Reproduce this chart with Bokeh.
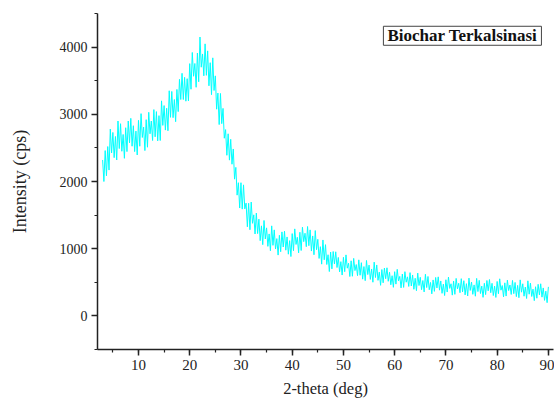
import numpy as np
from bokeh.plotting import figure
from bokeh.models import SingleIntervalTicker, Label
from bokeh.embed import file_html
from bokeh.resources import INLINE

# 2-theta grid (deg) and intensity (cps)
two_theta_start = 3.0
two_theta_step = 0.25
intensity = [
    2320, 2000, 2460, 2085, 2520, 2170, 2780, 2425, 2730, 2355,
    2670, 2320, 2900, 2490, 2860, 2450, 2700, 2345, 2800, 2445,
    2900, 2575, 2940, 2525, 2830, 2445, 2750, 2395, 2910, 2525,
    3010, 2655, 2810, 2460, 2920, 2510, 3030, 2710, 2900, 2610,
    3070, 2665, 3040, 2605, 2980, 2610, 3200, 2835, 3130, 2765,
    3090, 2755, 3350, 2955, 3340, 2950, 3220, 2890, 3370, 3040,
    3520, 3220, 3610, 3220, 3550, 3195, 3530, 3200, 3754, 3373,
    3920, 3566, 3756, 3402, 3912, 3484, 4150, 3701, 3898, 3573,
    4048, 3580, 3944, 3424, 3768, 3292, 3840, 3354, 3572, 3076,
    3316, 2847, 3310, 2861, 3088, 2644, 2772, 2390, 2710, 2318,
    2628, 2257, 2484, 2035, 2210, 1797, 1982, 1605, 1982, 1589,
    1950, 1593, 1678, 1326, 1676, 1282, 1694, 1378, 1504, 1219,
    1530, 1225, 1440, 1120, 1340, 1060, 1420, 1145, 1310, 1035,
    1220, 970, 1340, 1050, 1280, 995, 1150, 905, 1200, 955,
    1250, 1025, 1260, 978, 1175, 918, 1120, 883, 1225, 970,
    1295, 1063, 1170, 938, 1245, 973, 1320, 1105, 1230, 1030,
    1330, 1045, 1280, 965, 1190, 910, 1270, 985, 1140, 855,
    1030, 770, 1130, 835, 1060, 765, 910, 660, 950, 700,
    958, 772, 954, 720, 870, 655, 807, 608, 872, 658,
    908, 710, 784, 586, 820, 590, 856, 674, 764, 599,
    834, 605, 792, 547, 734, 524, 825, 615, 756, 543,
    698, 501, 800, 571, 758, 529, 652, 455, 690, 493,
    712, 553, 716, 515, 650, 463, 598, 425, 658, 473,
    693, 522, 588, 417, 623, 424, 658, 501, 581, 438,
    644, 445, 609, 396, 560, 375, 637, 452, 574, 390,
    527, 357, 620, 422, 587, 389, 498, 328, 535, 365,
    572, 416, 581, 383, 520, 336, 473, 303, 538, 355,
    578, 409, 478, 309, 518, 321, 558, 403, 486, 345,
    554, 357, 524, 313, 480, 297, 562, 379, 504, 321,
    461, 293, 558, 362, 529, 333, 444, 276, 485, 317,
    527, 373, 541, 345, 485, 303, 443, 275, 513, 330,
    552, 383, 452, 283, 492, 295, 532, 377, 460, 319,
    528, 331, 498, 287, 454, 271, 536, 353, 478, 293,
    430, 259, 522, 323, 488, 289, 398, 227, 434, 263,
    470, 313, 478, 279, 416, 231, 368, 197, 432,
]
two_theta = two_theta_start + two_theta_step * np.arange(len(intensity))

x_label = "2-theta (deg)"
y_label = "Intensity (cps)"
legend_text = "Biochar Terkalsinasi"

SERIF = "Liberation Serif"

p = figure(width=554, height=400, x_range=(2, 91), y_range=(-500, 4500),
           output_backend="svg", toolbar_location=None,
           min_border_left=97, min_border_top=13, min_border_right=1,
           min_border_bottom=51)
p.outline_line_color = None
p.xgrid.visible = False
p.ygrid.visible = False
p.background_fill_color = "white"
p.border_fill_color = "white"

p.line(two_theta, intensity, line_color="#00FFFF", line_width=1.0)

for ax in (p.xaxis[0], p.yaxis[0]):
    ax.axis_line_color = "#222222"
    ax.axis_line_width = 1.5
    ax.major_tick_line_color = "#222222"
    ax.minor_tick_line_color = "#222222"
    ax.major_tick_line_width = 1.5
    ax.minor_tick_line_width = 1.2
    ax.major_tick_out = 6
    ax.major_tick_in = 0
    ax.minor_tick_out = 3
    ax.minor_tick_in = 0
    ax.major_label_text_font = SERIF
    ax.major_label_text_color = "#222222"
    ax.axis_label_text_font = SERIF
    ax.axis_label_text_font_style = "normal"
    ax.axis_label_text_color = "#222222"

p.xaxis[0].major_label_text_font_size = "15px"
p.yaxis[0].major_label_text_font_size = "14px"
p.xaxis[0].axis_label_text_font_size = "16.5px"
p.yaxis[0].axis_label_text_font_size = "18px"
p.xaxis[0].axis_label_text_line_height = 0.8
p.xaxis[0].ticker = SingleIntervalTicker(interval=10, num_minor_ticks=2)
p.yaxis[0].ticker = SingleIntervalTicker(interval=1000, num_minor_ticks=2)
p.xaxis[0].axis_label = x_label
p.yaxis[0].axis_label = y_label
p.xaxis[0].major_label_standoff = 4
p.xaxis[0].axis_label_standoff = 6
p.yaxis[0].major_label_standoff = 4
p.yaxis[0].axis_label_standoff = 27

lab = Label(x=57.8, y=4310, text=legend_text, text_align="left",
            text_baseline="top", text_font=SERIF, text_font_size="17px",
            text_font_style="bold", text_color="#111111",
            border_line_color="#444444", border_line_width=1,
            background_fill_color="white", padding=(4, 0))
p.add_layout(lab)

open("out.html", "w").write(file_html(p, INLINE))
